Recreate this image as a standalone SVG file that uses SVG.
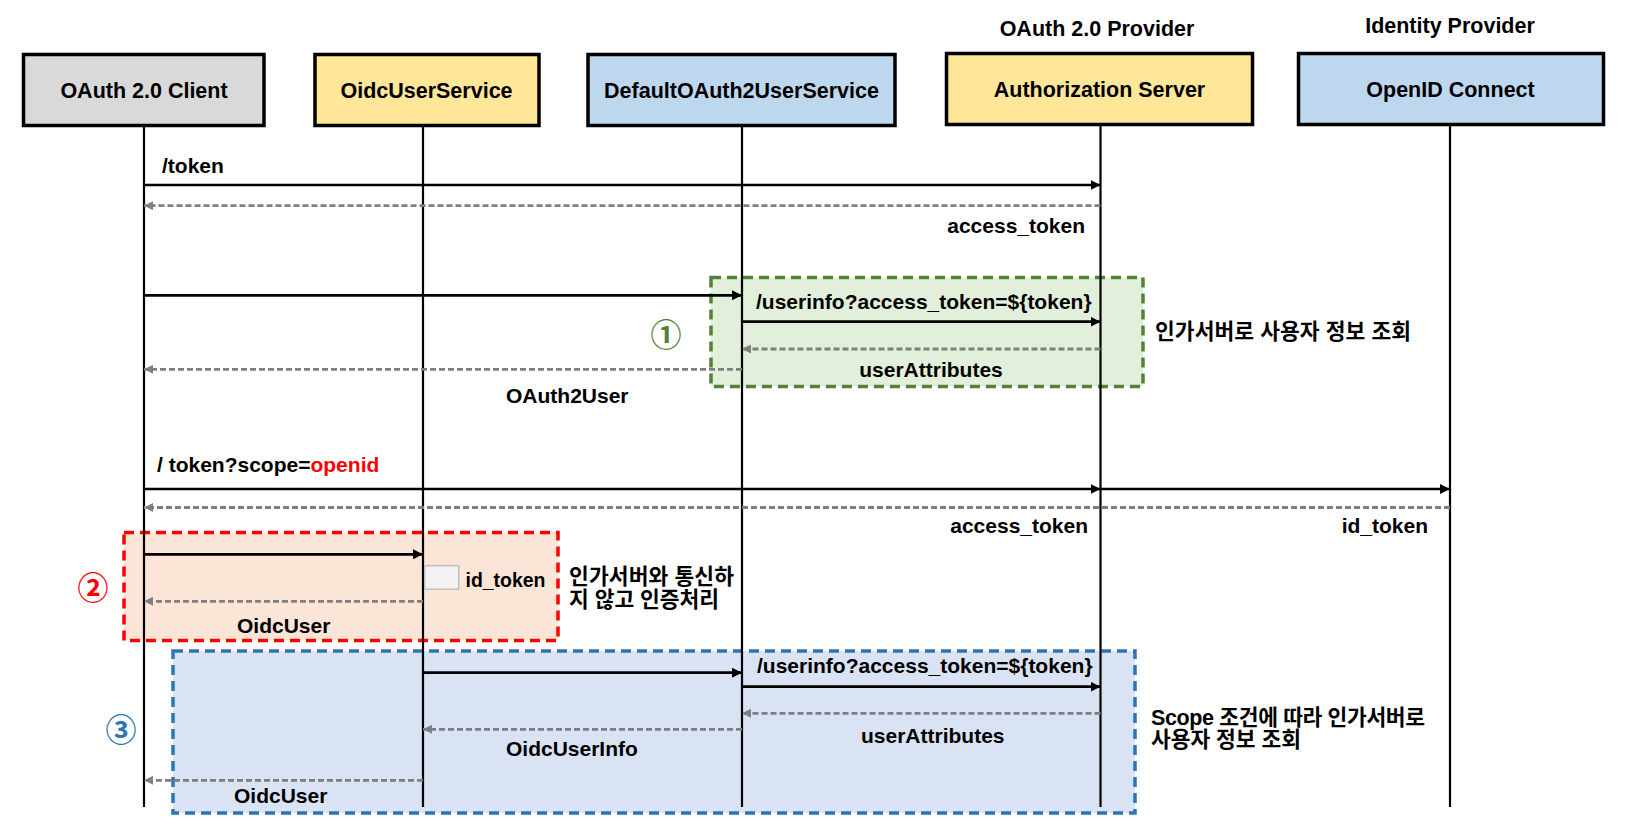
<svg xmlns="http://www.w3.org/2000/svg" width="1645" height="829" viewBox="0 0 1645 829">
<style>
  .box { stroke: #000; stroke-width: 3.5; }
  .title { font-family: "Liberation Sans", "Noto Sans CJK KR", sans-serif; font-weight: bold; font-size: 21.5px; fill: #000; text-anchor: middle; }
  .lbl { font-family: "Liberation Sans", "Noto Sans CJK KR", sans-serif; font-weight: bold; font-size: 21px; fill: #000; }
  .kr { font-family: "Liberation Sans", "Noto Sans CJK KR", sans-serif; font-weight: bold; font-size: 21.5px; fill: #000; }
  .num { font-family: "Noto Sans CJK KR", sans-serif; font-weight: bold; font-size: 31px; text-anchor: middle; dominant-baseline: central; }
  .life { stroke: #000; stroke-width: 2.2; fill: none; }
  .msg { stroke: #000; stroke-width: 2.7; fill: none; marker-end: url(#ah); }
  .ret { stroke: #7F7F7F; stroke-width: 2.8; stroke-dasharray: 6 3; fill: none; marker-end: url(#ahg); }
  .frame { stroke-width: 3.5; stroke-dasharray: 10 6; }
</style>
<defs>
  <marker id="ah" viewBox="0 0 10 10" refX="10" refY="5" markerWidth="10" markerHeight="10" markerUnits="userSpaceOnUse" orient="auto">
    <path d="M0,0 L10,5 L0,10 z" fill="#000"/>
  </marker>
  <marker id="ahg" viewBox="0 0 10 10" refX="10" refY="5" markerWidth="9" markerHeight="9" markerUnits="userSpaceOnUse" orient="auto">
    <path d="M0,0 L10,5 L0,10 z" fill="#7F7F7F"/>
  </marker>
</defs>
<rect width="1645" height="829" fill="#fff"/>

<!-- frames -->
<g id="frame1">
  <rect class="frame" x="711" y="277.5" width="432" height="109" fill="#E2EFDA" stroke="#548235"/>
  <text class="num" x="666" y="332" fill="#548235">①</text>
  <text class="kr" x="1155" y="339" textLength="256" lengthAdjust="spacing">인가서버로 사용자 정보 조회</text>
</g>
<g id="frame2">
  <rect class="frame" x="124" y="532.5" width="434" height="108" fill="#FBE5D6" stroke="#FF0000"/>
  <text class="num" x="93" y="585.5" fill="#FF0000">②</text>
  <text class="kr" x="569" y="584" textLength="165" lengthAdjust="spacing">인가서버와 통신하</text>
  <text class="kr" x="569" y="607" textLength="150" lengthAdjust="spacing">지 않고 인증처리</text>
</g>
<g id="frame3">
  <rect class="frame" x="173" y="651" width="962" height="162" fill="#DAE3F3" stroke="#2E75B6"/>
  <text class="num" x="121" y="727.5" fill="#2E75B6">③</text>
  <text class="kr" x="1151" y="725" textLength="274" lengthAdjust="spacing">Scope 조건에 따라 인가서버로</text>
  <text class="kr" x="1151" y="747" textLength="150" lengthAdjust="spacing">사용자 정보 조회</text>
</g>

<!-- participants -->
<g id="client">
  <rect class="box" x="23.5" y="54.5" width="240.5" height="71" fill="#D9D9D9"/>
  <text class="title" x="144" y="98">OAuth 2.0 Client</text>
  <line class="life" x1="144" y1="126" x2="144" y2="807"/>
</g>
<g id="oidcUserService">
  <rect class="box" x="315" y="54.5" width="224" height="71" fill="#FFE699"/>
  <text class="title" x="426.5" y="98">OidcUserService</text>
  <line class="life" x1="423" y1="126" x2="423" y2="807"/>
</g>
<g id="defaultOAuth2UserService">
  <rect class="box" x="588" y="54.5" width="307" height="71" fill="#BDD7EE"/>
  <text class="title" x="741.5" y="98">DefaultOAuth2UserService</text>
  <line class="life" x1="742" y1="126" x2="742" y2="807"/>
</g>
<g id="authorizationServer">
  <text class="title" x="1097" y="35.5">OAuth 2.0 Provider</text>
  <rect class="box" x="946.5" y="53.5" width="306" height="71" fill="#FFE699"/>
  <text class="title" x="1099.5" y="97">Authorization Server</text>
  <line class="life" x1="1100.5" y1="125" x2="1100.5" y2="807"/>
</g>
<g id="openIdConnect">
  <text class="title" x="1450" y="33">Identity Provider</text>
  <rect class="box" x="1298.5" y="53.5" width="305" height="71" fill="#BDD7EE"/>
  <text class="title" x="1450.5" y="97">OpenID Connect</text>
  <line class="life" x1="1450" y1="125" x2="1450" y2="807"/>
</g>

<!-- connectors -->
<g id="connectors">
  <line class="msg" x1="144" y1="185" x2="1100.5" y2="185"/>
  <line class="ret" x1="1100.5" y1="205.7" x2="144" y2="205.7"/>
  <line class="msg" x1="144" y1="295.3" x2="742" y2="295.3"/>
  <line class="msg" x1="742" y1="321.7" x2="1100.5" y2="321.7"/>
  <line class="ret" x1="1100.5" y1="349" x2="742" y2="349"/>
  <line class="ret" x1="742" y1="369.3" x2="144" y2="369.3"/>
  <line class="msg" x1="144" y1="489" x2="1100.5" y2="489"/>
  <line class="msg" x1="1100.5" y1="489" x2="1450" y2="489"/>
  <line class="ret" x1="1450" y1="507.5" x2="144" y2="507.5"/>
  <line class="msg" x1="144" y1="554.3" x2="423" y2="554.3"/>
  <line class="ret" x1="423" y1="601.3" x2="144" y2="601.3"/>
  <line class="msg" x1="423" y1="672.7" x2="742" y2="672.7"/>
  <line class="msg" x1="742" y1="686.7" x2="1100.5" y2="686.7"/>
  <line class="ret" x1="1100.5" y1="713.3" x2="742" y2="713.3"/>
  <line class="ret" x1="742" y1="729.3" x2="423" y2="729.3"/>
  <line class="ret" x1="423" y1="780.3" x2="144" y2="780.3"/>
</g>

<!-- connector labels -->
<g id="labels">
  <text class="lbl" x="162" y="173">/token</text>
  <text class="lbl" x="1085" y="233" text-anchor="end">access_token</text>
  <text class="lbl" x="756" y="309">/userinfo?access_token=${token}</text>
  <text class="lbl" x="931" y="377" text-anchor="middle">userAttributes</text>
  <text class="lbl" x="506" y="403">OAuth2User</text>
  <text class="lbl" x="157" y="472">/ token?scope=<tspan fill="#FF0000">openid</tspan></text>
  <text class="lbl" x="1088" y="533" text-anchor="end">access_token</text>
  <text class="lbl" x="1428" y="533" text-anchor="end">id_token</text>
  <rect x="424.7" y="565.7" width="34" height="23.6" fill="#F2F2F2" stroke="#BFBFBF" stroke-width="1.5"/>
  <text class="lbl" x="465.5" y="587" textLength="80" lengthAdjust="spacingAndGlyphs">id_token</text>
  <text class="lbl" x="237" y="633">OidcUser</text>
  <text class="lbl" x="757" y="673">/userinfo?access_token=${token}</text>
  <text class="lbl" x="861" y="743">userAttributes</text>
  <text class="lbl" x="506" y="756">OidcUserInfo</text>
  <text class="lbl" x="234" y="803">OidcUser</text>
</g>
</svg>
